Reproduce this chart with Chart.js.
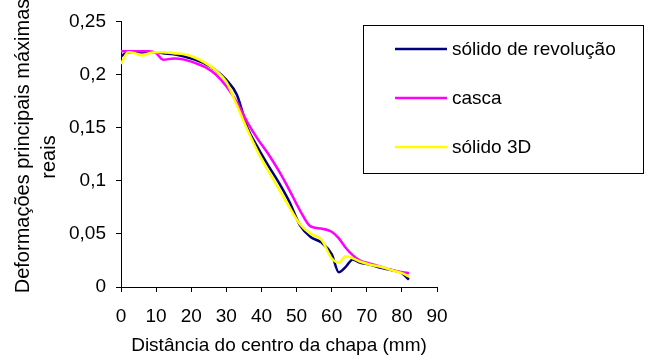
<!DOCTYPE html>
<html>
<head>
<meta charset="utf-8">
<script src="https://cdn.jsdelivr.net/npm/chart.js@4/dist/chart.umd.min.js"></script>
<style>
  html, body { margin: 0; padding: 0; background: #fff; }
  #wrap { width: 648px; height: 362px; position: relative; }
</style>
</head>
<body>
<div id="wrap"><canvas id="chart" width="648" height="362"></canvas></div>
<script>
const distancia = [0, 2, 4, 6, 8, 10, 12, 15, 18, 21, 24, 27, 30, 33, 36, 39, 42, 45, 48, 51, 54, 57, 60, 62, 64, 66, 68, 71, 74, 77, 80, 82];
const solidoRevolucao = [0.217, 0.221, 0.221, 0.221, 0.221, 0.221, 0.220, 0.219, 0.217, 0.214, 0.210, 0.204, 0.195, 0.181, 0.150, 0.131, 0.114, 0.098, 0.080, 0.058, 0.047, 0.042, 0.031, 0.014, 0.019, 0.026, 0.023, 0.021, 0.018, 0.016, 0.013, 0.007];
const casca = [0.222, 0.222, 0.222, 0.222, 0.222, 0.220, 0.214, 0.215, 0.214, 0.211, 0.207, 0.200, 0.189, 0.174, 0.155, 0.139, 0.125, 0.109, 0.091, 0.072, 0.057, 0.055, 0.052, 0.046, 0.037, 0.030, 0.025, 0.022, 0.019, 0.016, 0.014, 0.013];
const solido3D = [0.210, 0.221, 0.220, 0.218, 0.220, 0.221, 0.221, 0.220, 0.219, 0.216, 0.211, 0.204, 0.193, 0.171, 0.148, 0.127, 0.109, 0.092, 0.075, 0.059, 0.050, 0.045, 0.027, 0.023, 0.029, 0.027, 0.024, 0.021, 0.019, 0.016, 0.013, 0.010];

const seriesNames = ["sólido de revolução", "casca", "sólido 3D"];
const seriesColors = ["#000080", "#FF00FF", "#FFFF00"];
const yTitleLines = ["Deformações principais máximas", "reais"];
const xTitle = "Distância do centro da chapa (mm)";

const FONT = "'Liberation Sans', Arial, sans-serif";

function pts(ys) {
  return distancia.map((x, i) => ({ x: x, y: ys[i] }));
}

const extras = {
  id: "extras",
  afterDraw(chart) {
    const ctx = chart.ctx;
    ctx.save();
    // y axis title (two rotated lines)
    ctx.fillStyle = "#000";
    ctx.font = "20px " + FONT;
    ctx.textAlign = "center";
    ctx.textBaseline = "alphabetic";
    ctx.save();
    ctx.translate(29, 146);
    ctx.rotate(-Math.PI / 2);
    ctx.fillText(yTitleLines[0], 0, 0);
    ctx.restore();
    ctx.save();
    ctx.translate(55, 157);
    ctx.rotate(-Math.PI / 2);
    ctx.fillText(yTitleLines[1], 0, 0);
    ctx.restore();

    // legend box
    ctx.font = "19px " + FONT;
    ctx.fillStyle = "#fff";
    ctx.fillRect(363.5, 25.5, 280, 148);
    ctx.strokeStyle = "#000";
    ctx.lineWidth = 1;
    ctx.strokeRect(363.5, 25.5, 280, 148);
    ctx.textAlign = "left";
    ctx.textBaseline = "middle";
    seriesNames.forEach((name, i) => {
      const y = 49 + i * 49;
      ctx.strokeStyle = seriesColors[i];
      ctx.lineWidth = 2.5;
      ctx.beginPath();
      ctx.moveTo(395, y);
      ctx.lineTo(447, y);
      ctx.stroke();
      ctx.fillStyle = "#000";
      ctx.fillText(name, 452, y + 1);
    });
    ctx.restore();
  }
};

new Chart(document.getElementById("chart"), {
  type: "line",
  data: {
    datasets: [
      { label: seriesNames[0], data: pts(solidoRevolucao), borderColor: seriesColors[0], order: 3 },
      { label: seriesNames[1], data: pts(casca), borderColor: seriesColors[1], order: 2 },
      { label: seriesNames[2], data: pts(solido3D), borderColor: seriesColors[2], order: 1 }
    ]
  },
  options: {
    responsive: false,
    animation: false,
    layout: { padding: { top: 20, right: 211, bottom: 0, left: 0 } },
    elements: {
      line: { borderWidth: 2.5, cubicInterpolationMode: "monotone", fill: false },
      point: { radius: 0 }
    },
    plugins: { legend: { display: false }, tooltip: { enabled: false } },
    scales: {
      x: {
        type: "linear",
        min: 0,
        max: 90,
        ticks: { stepSize: 10, color: "#000", font: { family: FONT, size: 19 }, padding: 13, maxRotation: 0 },
        grid: { drawOnChartArea: false, drawTicks: true, tickLength: 5, color: "#000" },
        border: { color: "#000", width: 1 },
        title: { display: true, text: xTitle, color: "#000", font: { family: FONT, size: 19 }, padding: { top: 0, bottom: 5 } },
        afterFit(scale) { scale.height = 75; }
      },
      y: {
        min: 0,
        max: 0.25,
        ticks: {
          stepSize: 0.05,
          color: "#000",
          font: { family: FONT, size: 19 },
          padding: 10,
          callback: v => String(Number(v.toFixed(2))).replace(".", ",")
        },
        grid: { drawOnChartArea: false, drawTicks: true, tickLength: 5, color: "#000" },
        border: { color: "#000", width: 1 },
        afterFit(scale) { scale.width = 121; }
      }
    }
  },
  plugins: [extras]
});
</script>
</body>
</html>
